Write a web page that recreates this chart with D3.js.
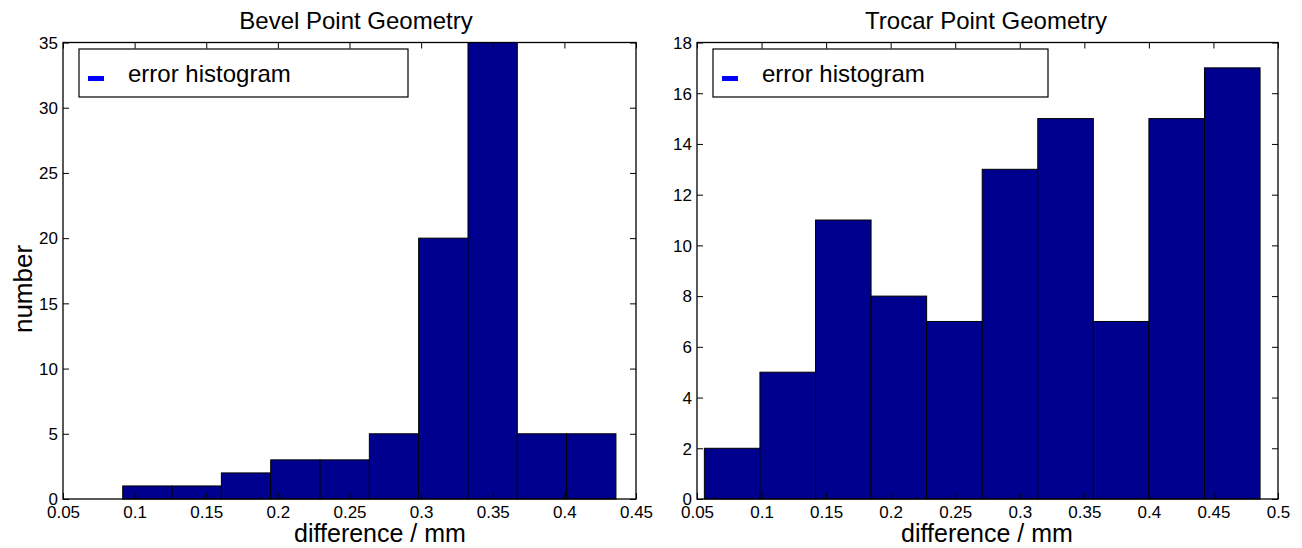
<!DOCTYPE html>
<html>
<head>
<meta charset="utf-8">
<script src="https://cdn.jsdelivr.net/npm/d3@7"></script>
<style>
body{margin:0;background:#fff}
text{font-family:"Liberation Sans",Arial,sans-serif;fill:#000}
</style>
</head>
<body>
<div id="chart"></div>
<script>
var bevelCounts = [1,1,2,3,3,5,20,35,5,5]
var bevelRange = [0.0917,0.436]
var bevelXTicks = [0.05,0.1,0.15,0.2,0.25,0.3,0.35,0.4,0.45]
var bevelYTicks = [0,5,10,15,20,25,30,35]

var trocarCounts = [2,5,11,8,7,13,15,7,15,17]
var trocarRange = [0.0557,0.4861]
var trocarXTicks = [0.05,0.1,0.15,0.2,0.25,0.3,0.35,0.4,0.45,0.5]
var trocarYTicks = [0,2,4,6,8,10,12,14,16,18]

var width = 1302
var height = 548
var barColor = "#00008f"

var svg = d3.select("#chart").append("svg").attr("width",width).attr("height",height)

drawPanel({left:63,right:636,title:"Bevel Point Geometry",titleX:356,xLabelX:380,counts:bevelCounts,range:bevelRange,
    xTicks:bevelXTicks,yTicks:bevelYTicks,xDomain:[0.05,0.45],yDomain:[0,35],legendRight:408,yLabel:true})
drawPanel({left:697,right:1278,title:"Trocar Point Geometry",titleX:986,xLabelX:987,counts:trocarCounts,range:trocarRange,
    xTicks:trocarXTicks,yTicks:trocarYTicks,xDomain:[0.05,0.5],yDomain:[0,18],legendRight:1048,yLabel:false})

function drawPanel(p){
    var top = 42.5
    var bottom = 499
    var x = d3.scaleLinear().domain(p.xDomain).range([p.left,p.right])
    var y = d3.scaleLinear().domain(p.yDomain).range([bottom,top])
    var g = svg.append("g")

    var binW = (p.range[1]-p.range[0])/p.counts.length
    g.selectAll(".bar")
    .data(p.counts)
    .enter()
    .append("rect")
    .attr("x",function(d,i){return x(p.range[0]+i*binW)})
    .attr("y",function(d){return y(d)})
    .attr("width",function(d,i){return x(p.range[0]+(i+1)*binW)-x(p.range[0]+i*binW)})
    .attr("height",function(d){return bottom-y(d)})
    .attr("fill",barColor)
    .attr("stroke","#000")
    .attr("stroke-width",1)

    // axes, matlab style with inward ticks on all sides
    var tl = 6
    var axB = g.append("g").attr("transform","translate(0,"+bottom+")")
        .call(d3.axisBottom(x).tickValues(p.xTicks).tickFormat(d3.format("")).tickSizeInner(-tl).tickSizeOuter(0).tickPadding(7))
    var axT = g.append("g").attr("transform","translate(0,"+top+")")
        .call(d3.axisTop(x).tickValues(p.xTicks).tickFormat("").tickSizeInner(-tl).tickSizeOuter(0))
    var axL = g.append("g").attr("transform","translate("+p.left+",0)")
        .call(d3.axisLeft(y).tickValues(p.yTicks).tickSizeInner(-tl).tickSizeOuter(0).tickPadding(5))
    var axR = g.append("g").attr("transform","translate("+p.right+",0)")
        .call(d3.axisRight(y).tickValues(p.yTicks).tickFormat("").tickSizeInner(-tl).tickSizeOuter(0))
    g.selectAll(".domain").remove()
    g.selectAll(".tick line").attr("stroke","#000")
    g.selectAll(".tick text").style("font-size","17px").attr("fill","#000")
    axL.selectAll(".tick text").attr("dy","0.34em")

    g.append("rect").attr("x",p.left).attr("y",top).attr("width",p.right-p.left).attr("height",bottom-top)
    .attr("fill","none").attr("stroke","#000").attr("stroke-width",1.3)

    g.append("text").text(p.title).attr("x",p.titleX).attr("y",29)
    .attr("text-anchor","middle").style("font-size","24px")
    g.append("text").text("difference / mm").attr("x",p.xLabelX).attr("y",542)
    .attr("text-anchor","middle").style("font-size","25px")
    if(p.yLabel){
        g.append("text").text("number").attr("transform","translate(32,289) rotate(-90)")
        .attr("text-anchor","middle").style("font-size","26px")
    }

    // legend
    var lx = p.left+16
    g.append("rect").attr("x",lx).attr("y",49).attr("width",p.legendRight-lx).attr("height",48)
    .attr("fill","#fff").attr("stroke","#000").attr("stroke-width",1.2)
    g.append("rect").attr("x",lx+9).attr("y",76).attr("width",16).attr("height",5).attr("fill","#0000ff")
    g.append("text").text("error histogram").attr("x",lx+49).attr("y",82).style("font-size","24px")
}
</script>
</body>
</html>
